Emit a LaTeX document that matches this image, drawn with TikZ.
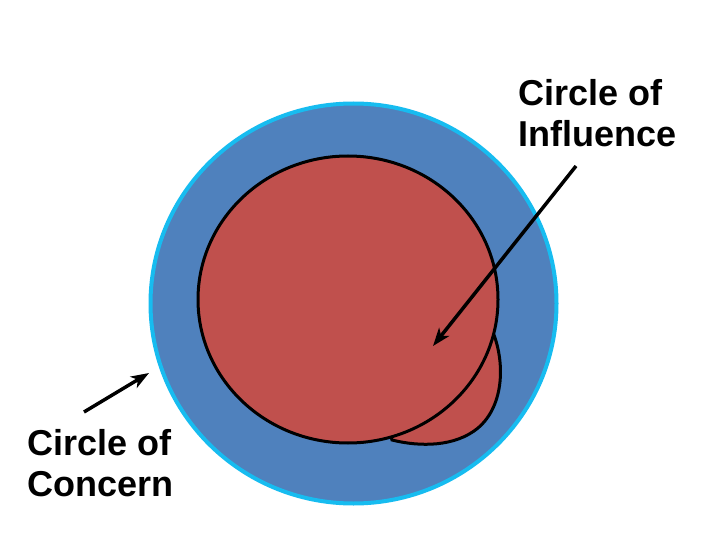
\documentclass[tikz,border=0pt]{standalone}
\usepackage{fontspec}
\setmainfont{Liberation Sans}
\usetikzlibrary{arrows.meta}
\definecolor{concernblue}{HTML}{4F81BD}
\definecolor{concernrim}{HTML}{17BCF0}
\definecolor{influred}{HTML}{C0504D}
\tikzset{
  labeltext/.style={anchor=north west, inner sep=0pt, align=left,
    font=\fontsize{36}{41}\selectfont\bfseries},
  pointer/.style={line width=3.5pt, -{Stealth[length=18pt,width=13pt,inset=5pt]}},
  redshape/.style={fill=influred, draw=black, line width=3pt}
}
\begin{document}
\begin{tikzpicture}[x=1pt,y=-1pt]
\useasboundingbox (0,0) rectangle (720,540);
% circle of concern
\draw[fill=concernblue, draw=concernrim, line width=4pt] (353.5,303.5) ellipse [x radius=203, y radius=200];
% bulge of circle of influence
\draw[redshape] (492,330) .. controls (505,360) and (505,405) .. (478,428)
   .. controls (455,447) and (420,447) .. (392,440) -- (348,300) -- cycle;
% circle of influence
\draw[redshape] (348,299.5) ellipse [x radius=150, y radius=143.5];
% labels
\node[labeltext] (infl) at (518,79) {Circle of\\Influence};
\node[labeltext] (conc) at (27,429) {Circle of\\Concern};
% pointers
\coordinate (inflstart) at (576,166);
\coordinate (inflend) at (433,346);
\coordinate (concstart) at (84,412);
\coordinate (concend) at (149,373);
\draw[pointer] (inflstart) -- (inflend);
\draw[pointer] (concstart) -- (concend);
\end{tikzpicture}
\end{document}
